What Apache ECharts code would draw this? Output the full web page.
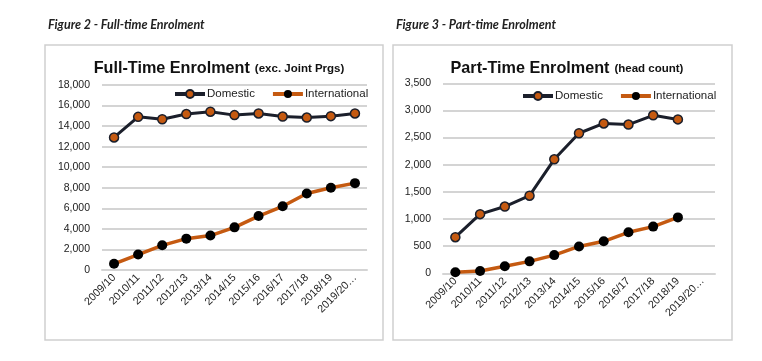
<!DOCTYPE html>
<html><head><meta charset="utf-8">
<script src="https://cdn.jsdelivr.net/npm/echarts@6/dist/echarts.min.js"></script>
<style>html,body{margin:0;padding:0;background:#fff}#c{width:762px;height:361px}</style>
</head><body><div id="c"></div>
<script>
const categories = ['2009/10','2010/11','2011/12','2012/13','2013/14','2014/15','2015/16','2016/17','2017/18','2018/19','2019/20…'];
const ftDomestic = [12900,14900,14670,15170,15400,15070,15230,14930,14830,14970,15230];
const ftInternational = [600,1500,2400,3050,3350,4150,5250,6200,7450,8000,8450];
const ptDomestic = [665,1090,1230,1430,2100,2580,2760,2740,2910,2835,null];
const ptInternational = [18,42,130,220,335,495,590,755,860,1030,null];
const ftTicks = {min:0,max:18000,interval:2000};
const ptTicks = {min:0,max:3500,interval:500};

const navy = '#1b1f2b', orange = '#c55a11';
const fmt = v => v.toLocaleString('en-US');
const txt = '#222';
const gridColor = '#d4d4d4';
const ff = 'Liberation Sans, Arial';

function xAxis(gi){return {type:'category',gridIndex:gi,data:categories,boundaryGap:true,
  axisLine:{lineStyle:{color:gridColor,width:2}},axisTick:{show:false},
  axisLabel:{rotate:45,interval:0,color:txt,fontFamily:ff,fontSize:10.8,margin:6}};}
function yAxis(gi,t){return {type:'value',gridIndex:gi,min:t.min,max:t.max,interval:t.interval,
  axisLine:{show:false},axisTick:{show:false},
  splitLine:{lineStyle:{color:gridColor,width:2}},
  axisLabel:{color:txt,fontFamily:ff,fontSize:10.5,margin:12,formatter:fmt}};}
function dom(gi,data){return {name:'Domestic',type:'line',xAxisIndex:gi,yAxisIndex:gi,data:data,
  symbol:'circle',symbolSize:9,lineStyle:{color:navy,width:3},
  itemStyle:{color:orange,borderColor:navy,borderWidth:1.5},z:3};}
function intl(gi,data){return {name:'International',type:'line',xAxisIndex:gi,yAxisIndex:gi,data:data,
  symbol:'circle',symbolSize:10,lineStyle:{color:orange,width:3.5},
  itemStyle:{color:'#000',borderColor:'#000',borderWidth:0},z:2};}
function legend(left,top){return {left:left,top:top,itemWidth:30,itemHeight:10,itemGap:16,
  lineStyle:{width:4},
  data:[{name:'Domestic'},{name:'International'}],
  textStyle:{color:txt,fontFamily:ff,fontSize:11.5,padding:[0,0,0,-3]}};}
function title(text,sub,cx){return {text:'{a|'+text+'} {b|'+sub+'}',left:cx,textAlign:'center',top:55,
  textStyle:{rich:{a:{fontFamily:ff,fontWeight:'bold',fontSize:16.2,color:'#111'},b:{fontFamily:ff,fontWeight:'bold',fontSize:11.5,color:'#111'}}}};}
function caption(text,x){return {text:text,left:x,top:13,textStyle:{fontFamily:'Lato',fontStyle:'italic',fontWeight:'bold',fontSize:12.5,color:'#222'}};}

const chart = echarts.init(document.getElementById('c'),null,{renderer:'canvas'});
chart.setOption({
  animation:false,
  title:[
    caption('Figure 2 - Full-time Enrolment',43),
    caption('Figure 3 - Part-time Enrolment',391),
    title('Full-Time Enrolment','(exc. Joint Prgs)',214),
    title('Part-Time Enrolment','(head count)',562)
  ],
  graphic:[
    {type:'rect',shape:{x:45,y:45,width:338,height:295},style:{fill:'none',stroke:'#cfcfcf',lineWidth:1.5},silent:true},
    {type:'rect',shape:{x:393,y:45,width:339,height:295},style:{fill:'none',stroke:'#cfcfcf',lineWidth:1.5},silent:true}
  ],
  legend:[legend(168,83),legend(516,85)],
  grid:[
    {left:102,right:395,top:85,bottom:91},
    {left:443,right:47,top:83.3,bottom:87.7}
  ],
  xAxis:[xAxis(0),xAxis(1)],
  yAxis:[yAxis(0,ftTicks),yAxis(1,ptTicks)],
  series:[dom(0,ftDomestic),intl(0,ftInternational),dom(1,ptDomestic),intl(1,ptInternational)]
});
</script></body></html>
